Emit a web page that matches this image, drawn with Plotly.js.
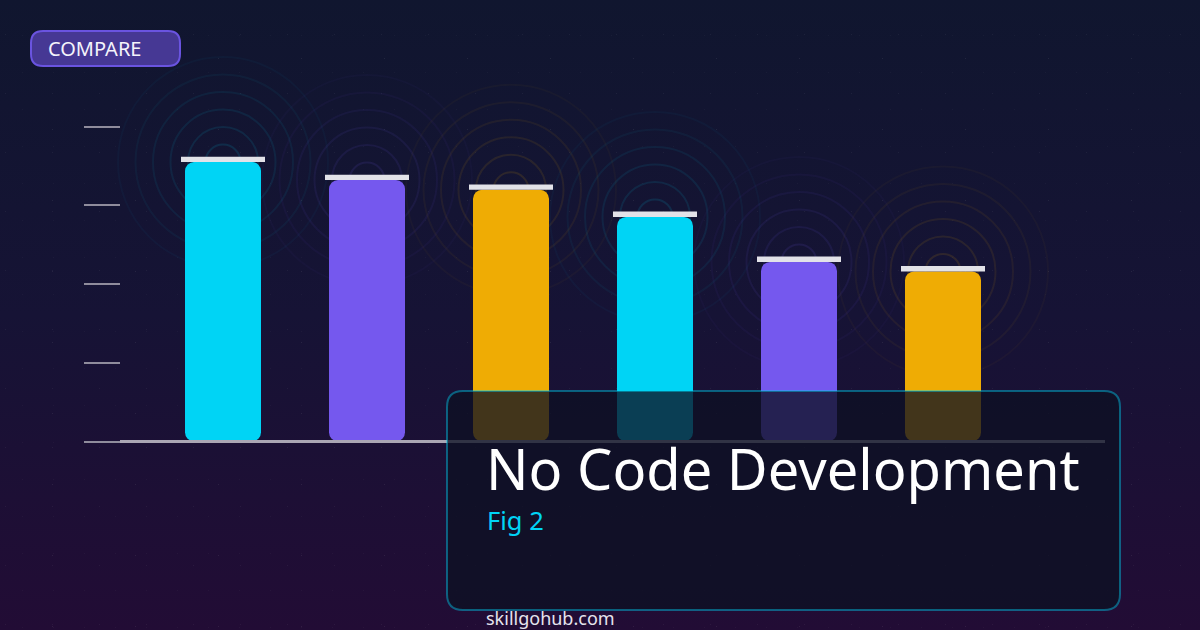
<!DOCTYPE html>
<html>
<head>
<meta charset="utf-8">
<title>No Code Development</title>
<script src="https://cdn.plot.ly/plotly-3.0.1.min.js"></script>
<style>
    html, body { margin: 0; padding: 0; width: 1200px; height: 630px; overflow: hidden; }
    body {
        background-image:
            radial-gradient(circle, rgba(255,255,255,0.07) 0.6px, transparent 1px),
            radial-gradient(circle, rgba(255,255,255,0.05) 0.6px, transparent 1px),
            radial-gradient(circle, rgba(255,255,255,0.03) 0.6px, transparent 1px),
            linear-gradient(180deg, #10162f 0%, #161335 50%, #220c35 100%);
        background-size: 83px 71px, 47px 59px, 31px 37px, 100% 100%;
        background-position: 11px 23px, 29px 5px, 7px 17px, 0 0;
    }
    #chart { width: 1200px; height: 630px; }
</style>
</head>
<body>
<div id="chart"></div>
<script>
var W = 1200, H = 630;

var barIndex = [0, 1, 2, 3, 4, 5];
var barValues = [88.7, 83, 79.9, 71.3, 57, 54];
var barBase = [0, 0, 0, 0, 0, 0];
var barColors = ['#00d4f5', '#7558ee', '#efac04', '#00d4f5', '#7558ee', '#efac04'];
var ringColors = ['0,212,245', '112,88,238', '239,172,4', '0,212,245', '112,88,238', '239,172,4'];
var ringRadii = [17.5, 35, 52.5, 70, 87.5, 105];
var ringAlpha = [0.12, 0.10, 0.085, 0.07, 0.05, 0.035];
var tickValues = [0, 25, 50, 75, 100];

// pixels per unit, the whole page is the plot area so the rings don't get clipped
var pxX = 144, pxY = 3.15, originX = 223, originY = 441.5;
var capHeight = 5.4 / pxY;

function rrect(x0, y0, x1, y1, r) {
    var px = function(x) { return x / W; };
    var py = function(y) { return 1 - y / H; };
    return 'M' + px(x0 + r) + ',' + py(y0) +
        ' L' + px(x1 - r) + ',' + py(y0) +
        ' Q' + px(x1) + ',' + py(y0) + ' ' + px(x1) + ',' + py(y0 + r) +
        ' L' + px(x1) + ',' + py(y1 - r) +
        ' Q' + px(x1) + ',' + py(y1) + ' ' + px(x1 - r) + ',' + py(y1) +
        ' L' + px(x0 + r) + ',' + py(y1) +
        ' Q' + px(x0) + ',' + py(y1) + ' ' + px(x0) + ',' + py(y1 - r) +
        ' L' + px(x0) + ',' + py(y0 + r) +
        ' Q' + px(x0) + ',' + py(y0) + ' ' + px(x0 + r) + ',' + py(y0) + ' Z';
}

// an explicit base makes cornerradius round both ends of the bar
var bars = {
    type: 'bar',
    x: barIndex,
    base: barBase,
    y: barValues,
    width: 76 / pxX,
    marker: { color: barColors, cornerradius: 9, line: { width: 0 } },
    hoverinfo: 'skip'
};
var caps = {
    type: 'bar',
    x: barIndex,
    base: barValues,
    y: barValues.map(function() { return capHeight; }),
    width: 84 / pxX,
    marker: { color: '#e2e2e8', line: { width: 0 } },
    hoverinfo: 'skip'
};

var shapes = [];
barIndex.forEach(function(i) {
    ringRadii.forEach(function(r, k) {
        shapes.push({
            type: 'circle',
            layer: 'below',
            xref: 'x', yref: 'y',
            xsizemode: 'pixel', ysizemode: 'pixel',
            xanchor: i, yanchor: barValues[i],
            x0: -r, x1: r, y0: -r, y1: r,
            line: { color: 'rgba(' + ringColors[i] + ',' + ringAlpha[k] + ')', width: 2 },
            fillcolor: 'rgba(0,0,0,0)'
        });
    });
});

// baseline
shapes.push({
    type: 'line',
    xref: 'x', yref: 'y',
    x0: (120 - originX) / pxX, x1: (1105 - originX) / pxX,
    y0: 0, y1: 0,
    line: { color: '#aaa6b4', width: 3 }
});
// badge
shapes.push({
    type: 'path', xref: 'paper', yref: 'paper',
    path: rrect(31, 31, 180, 66, 12),
    fillcolor: '#463894',
    line: { color: '#6a54e0', width: 2 }
});
// title panel
shapes.push({
    type: 'path', xref: 'paper', yref: 'paper',
    path: rrect(447, 391, 1120, 610, 16),
    fillcolor: 'rgba(13,17,35,0.77)',
    line: { color: 'rgba(0,212,245,0.42)', width: 2 }
});

function label(text, x, y, size, color) {
    return {
        text: text,
        xref: 'paper', yref: 'paper',
        x: x / W, y: 1 - y / H,
        xanchor: 'left', yanchor: 'middle',
        showarrow: false,
        font: { family: '"Noto Sans", sans-serif', size: size, color: color }
    };
}

var layout = {
    width: W,
    height: H,
    margin: { l: 0, r: 0, t: 0, b: 0, pad: 0 },
    paper_bgcolor: 'rgba(0,0,0,0)',
    plot_bgcolor: 'rgba(0,0,0,0)',
    showlegend: false,
    barmode: 'overlay',
    xaxis: {
        type: 'linear',
        range: [-originX / pxX, (W - originX) / pxX],
        visible: false,
        fixedrange: true
    },
    yaxis: {
        range: [(originY - H) / pxY, originY / pxY],
        anchor: 'free',
        position: 120 / W,
        tickmode: 'array',
        tickvals: tickValues,
        ticktext: tickValues.map(function() { return ''; }),
        ticks: 'outside',
        ticklen: 36,
        tickwidth: 2,
        tickcolor: '#8f8c9c',
        showgrid: false,
        zeroline: false,
        showline: false,
        fixedrange: true
    },
    shapes: shapes,
    annotations: [
        label('COMPARE', 46, 49, 20, '#f4f3fb'),
        label('No Code Development', 484, 467.5, 56, '#ffffff'),
        label('Fig 2', 485, 520, 25.5, '#00d4f5'),
        label('skillgohub.com', 484, 618, 18, '#e6e4ee')
    ]
};

Plotly.newPlot('chart', [bars, caps], layout, { displayModeBar: false, staticPlot: true });
</script>
</body>
</html>
